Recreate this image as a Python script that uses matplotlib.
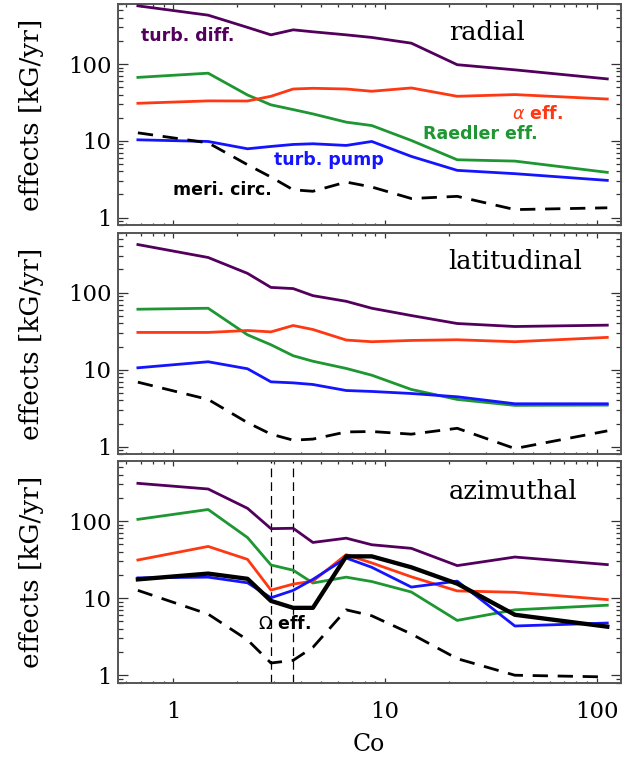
import matplotlib
matplotlib.use("Agg")
import matplotlib.pyplot as plt
from matplotlib.ticker import FixedLocator, LogLocator, NullFormatter, FixedFormatter

# Coriolis number of each run
co = [0.68, 1.46, 2.24, 2.89, 3.68, 4.56, 6.55, 8.65, 13.3, 21.9, 41.0, 112.0]

# radial component [kG/yr]
rad_diff = [573, 433, 300, 240, 279, 263, 240, 222, 187, 98, 84, 64]
rad_raedler = [67, 76, 39.5, 29.4, 25.5, 22.4, 17.5, 15.8, 10.1, 5.66, 5.44, 3.88]
rad_alpha = [30.8, 33.1, 33.0, 38.0, 47.3, 48.3, 47.3, 44.2, 48.8, 38.0, 40.0, 35.0]
rad_pump = [10.3, 9.8, 7.87, 8.44, 8.96, 9.15, 8.7, 9.8, 6.26, 4.12, 3.73, 3.05]
rad_meri = [12.7, 9.4, 4.88, 3.37, 2.3, 2.2, 2.9, 2.5, 1.77, 1.89, 1.27, 1.34]

# latitudinal component [kG/yr]
lat_diff = [421, 286, 178, 117, 113, 91.5, 77.3, 62.8, 50.5, 39.8, 36.4, 37.9]
lat_raedler = [61, 62.8, 28.4, 21.1, 15.2, 12.9, 10.4, 8.5, 5.55, 4.12, 3.45, 3.48]
lat_alpha = [30.5, 30.5, 32.3, 31.0, 37.5, 33.3, 24.3, 23.1, 24.0, 24.5, 23.1, 26.3]
lat_pump = [10.6, 12.7, 10.3, 6.97, 6.76, 6.44, 5.38, 5.23, 4.92, 4.46, 3.62, 3.62]
lat_meri = [6.9, 4.12, 2.06, 1.46, 1.22, 1.26, 1.56, 1.58, 1.46, 1.74, 0.95, 1.61]

# azimuthal component [kG/yr]
azi_diff = [308, 260, 146, 79.6, 80.5, 52.7, 59.9, 49.2, 44.2, 26.4, 34.1, 27.2]
azi_raedler = [105, 141, 61, 26.9, 23.0, 15.7, 18.7, 16.4, 12.0, 5.14, 7.05, 8.09]
azi_alpha = [31.2, 46.8, 31.8, 12.7, 15.2, 16.6, 36.6, 28.6, 18.9, 12.4, 11.9, 9.57]
azi_pump = [18.3, 18.7, 15.8, 10.1, 12.6, 17.5, 33.1, 25.1, 13.9, 16.6, 4.35, 4.75]
azi_omega = [17.5, 20.8, 17.8, 9.2, 7.48, 7.48, 34.8, 34.8, 25.1, 15.4, 6.08, 4.26]
azi_meri = [12.6, 6.2, 2.87, 1.44, 1.56, 2.3, 7.05, 5.9, 3.43, 1.64, 1.0, 0.95]

# runs bracketing the Omega-effect minimum
omega_marks = [2.89, 3.68]

panel_titles = ["radial", "latitudinal", "azimuthal"]
ytick_vals = [1, 10, 100]
ytick_labels = ["1", "10", "100"]
xtick_vals = [1, 10, 100]
xtick_labels = ["1", "10", "100"]

C_DIFF = "#52005C"
C_RAED = "#1E9632"
C_ALPHA = "#FF3814"
C_PUMP = "#1414FF"

SERIF = "DejaVu Serif"
SANS = "DejaVu Sans"

fig = plt.figure(figsize=(6.44, 7.60), dpi=100)
W, H = 644.0, 760.0
left, right = 117.7, 621.0
panel_px = [(4.3, 225.0), (232.7, 454.3), (461.0, 682.7)]
axes = []
for top, bot in panel_px:
    ax = fig.add_axes([left / W, 1 - bot / H, (right - left) / W, (bot - top) / H])
    axes.append(ax)

lw = 2.0
dash = (0, (5.5, 3.5))
data = [
    (rad_diff, rad_raedler, rad_alpha, rad_pump, rad_meri),
    (lat_diff, lat_raedler, lat_alpha, lat_pump, lat_meri),
    (azi_diff, azi_raedler, azi_alpha, azi_pump, azi_meri),
]

for i, ax in enumerate(axes):
    d, r, a, p, m = data[i]
    ax.set_xscale("log")
    ax.set_yscale("log")
    if i == 2:
        for xv in omega_marks:
            ax.axvline(xv, color="black", lw=0.9, ls=(0, (7, 4)), zorder=1)
    ax.plot(co, d, color=C_DIFF, lw=lw, zorder=3)
    ax.plot(co, r, color=C_RAED, lw=lw, zorder=3)
    ax.plot(co, a, color=C_ALPHA, lw=lw, zorder=3)
    ax.plot(co, p, color=C_PUMP, lw=lw, zorder=3)
    ax.plot(co, m, color="black", lw=lw, ls=dash, zorder=3)
    if i == 2:
        ax.plot(co, azi_omega, color="black", lw=3.1, zorder=4)

    ax.set_xlim(0.546, 130)
    ax.set_ylim(0.8, 600)

    ax.yaxis.set_major_locator(FixedLocator(ytick_vals))
    ax.yaxis.set_major_formatter(FixedFormatter(ytick_labels))
    ax.yaxis.set_minor_locator(LogLocator(base=10, subs=range(2, 10), numticks=20))
    ax.yaxis.set_minor_formatter(NullFormatter())
    ax.xaxis.set_major_locator(FixedLocator(xtick_vals))
    ax.xaxis.set_minor_locator(LogLocator(base=10, subs=range(2, 10), numticks=20))
    ax.xaxis.set_minor_formatter(NullFormatter())
    if i == 2:
        ax.xaxis.set_major_formatter(FixedFormatter(xtick_labels))
    else:
        ax.xaxis.set_major_formatter(NullFormatter())

    ax.tick_params(which="both", direction="in", top=True, right=True, color="#333333", width=0.9)
    ax.tick_params(axis="x", which="major", length=3.4, pad=13.5, labelsize=16.5)
    ax.tick_params(axis="x", which="minor", length=1.8)
    ax.tick_params(axis="y", which="major", length=7.3, pad=4.6, labelsize=16.5)
    ax.tick_params(axis="y", which="minor", length=3.6)
    for lab in ax.get_xticklabels() + ax.get_yticklabels():
        lab.set_family(SERIF)

    for s in ax.spines.values():
        s.set_color("#555555")
        s.set_linewidth(1.4)

    ax.text(-0.172, 0.5, "effects [kG/yr]", transform=ax.transAxes, rotation=90,
            ha="center", va="center", fontsize=19, family=SERIF)

title_pos = [(0.658, 0.870), (0.657, 0.868), (0.657, 0.862)]
for ax, t, (tx, ty) in zip(axes, panel_titles, title_pos):
    ax.text(tx, ty, t, transform=ax.transAxes, ha="left", va="center",
            fontsize=18.5, family=SERIF)

# series labels in the radial panel
ax0 = axes[0]
lab_kw = dict(transform=ax0.transAxes, ha="left", va="center", fontsize=12.5,
              family=SANS, fontweight="bold")
ax0.text(0.046, 0.856, "turb. diff.", color=C_DIFF, **lab_kw)
ax0.text(0.783, 0.503, r"$\alpha$ eff.", color=C_ALPHA, **lab_kw)
ax0.text(0.607, 0.412, "Raedler eff.", color=C_RAED, **lab_kw)
ax0.text(0.311, 0.296, "turb. pump", color=C_PUMP, **lab_kw)
ax0.text(0.110, 0.157, "meri. circ.", color="black", **lab_kw)

axes[2].text(0.278, 0.267, r"$\Omega$ eff.", transform=axes[2].transAxes, ha="left",
             va="center", fontsize=12.5, family=SANS, fontweight="bold", color="black")

axes[2].text(0.498, -0.281, "Co", transform=axes[2].transAxes, ha="center", va="center",
             fontsize=17, family=SERIF)

fig.savefig("out.png", dpi=100)
